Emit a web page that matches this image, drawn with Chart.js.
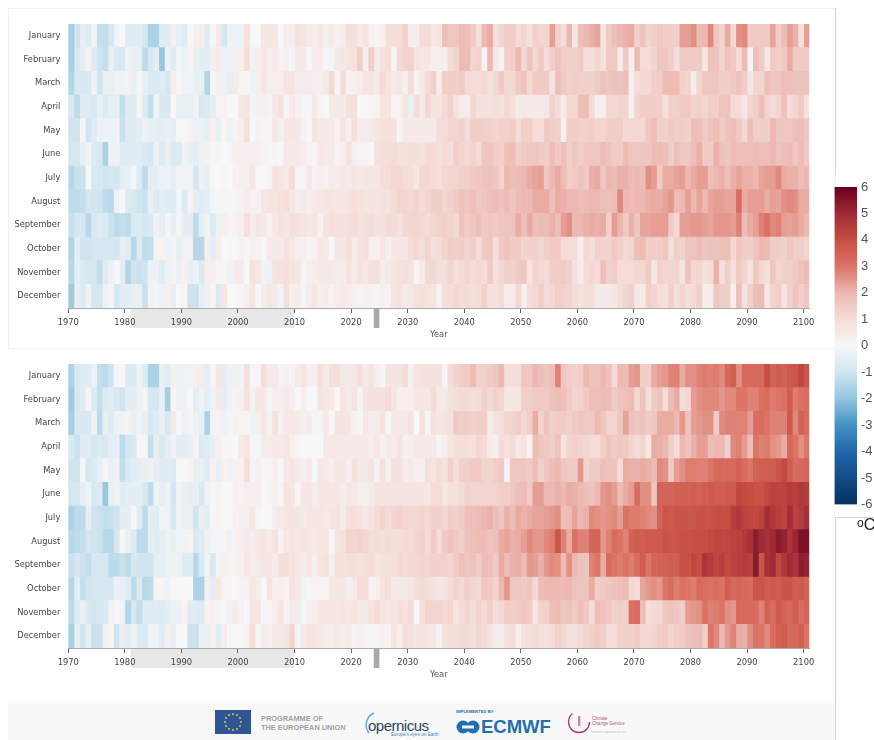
<!DOCTYPE html>
<html>
<head>
<meta charset="utf-8">
<title>Monthly temperature anomaly</title>
<script src="https://cdn.jsdelivr.net/npm/chart.js@4/dist/chart.umd.min.js"></script>
<style>
  html, body { margin: 0; padding: 0; background: #fff; width: 874px; height: 740px; overflow: hidden; }
  canvas { position: absolute; display: block; }
  .line { position: absolute; background: #d4d4d4; }
  #frame { position: absolute; left: 8px; top: 8px; width: 826px; height: 339px; border: 1px solid #f1f1f1; }
  #unit { position: absolute; left: 857px; top: 516px; font: 16px "Liberation Sans", sans-serif; color: #222; }
  #unit sup { font-size: 12px; vertical-align: 3px; line-height: 0; }
  #footer { position: absolute; left: 8px; top: 703px; }
</style>
</head>
<body>
<div id="frame"></div>
<canvas id="panelTop" width="827" height="340" style="left:8px;top:8px"></canvas>
<canvas id="panelBottom" width="827" height="340" style="left:8px;top:348px"></canvas>
<canvas id="legend" width="44" height="345" style="left:830px;top:175px"></canvas>
<div class="line" style="left:835px;top:8px;width:1px;height:167px"></div>
<div class="line" style="left:835px;top:517px;width:1px;height:223px"></div>
<div class="line" style="left:835px;top:517px;width:39px;height:1px"></div>
<div id="unit"><sup>o</sup>C</div>

<svg id="footer" width="827" height="37">
  <rect width="827" height="37" fill="#f8f8f8"/>
  <rect x="207" y="7" width="36" height="24" fill="#2f5597"/>
  <g fill="#d9c83a">
    <circle cx="225" cy="11" r="1"/><circle cx="229" cy="12" r="1"/><circle cx="232" cy="15" r="1"/><circle cx="233" cy="19" r="1"/>
    <circle cx="232" cy="23" r="1"/><circle cx="229" cy="26" r="1"/><circle cx="225" cy="27" r="1"/><circle cx="221" cy="26" r="1"/>
    <circle cx="218" cy="23" r="1"/><circle cx="217" cy="19" r="1"/><circle cx="218" cy="15" r="1"/><circle cx="221" cy="12" r="1"/>
  </g>
  <g font-family="Liberation Sans" font-weight="bold" font-size="7.4" fill="#a2a2a2">
    <text x="253" y="18">PROGRAMME OF</text>
    <text x="253" y="27">THE EUROPEAN UNION</text>
  </g>
  <path d="M366 10 A13 13 0 0 0 361 30" fill="none" stroke="#6fa8d8" stroke-width="1.5"/>
  <text x="360" y="28" font-family="Liberation Sans" font-size="15" fill="#27456f" letter-spacing="-.5">opernicus</text>
  <text x="383" y="33" font-family="Liberation Sans" font-size="4.6" fill="#3f7fc0">Europe's eyes on Earth</text>
  <text x="448" y="10" font-family="Liberation Sans" font-weight="bold" font-size="4.2" fill="#2b6cb0">IMPLEMENTED BY</text>
  <circle cx="455" cy="24" r="6.5" fill="#1f6fb2"/><circle cx="465" cy="24" r="6.5" fill="#1f6fb2"/>
  <rect x="454" y="22.5" width="12" height="3" fill="#f8f8f8"/>
  <text x="473" y="29.5" font-family="Liberation Sans" font-weight="bold" font-size="18.5" fill="#1f6fb2">ECMWF</text>
  <circle cx="571" cy="19" r="10.5" fill="none" stroke="#a83a5e" stroke-width="1.3" stroke-dasharray="42 24"/>
  <rect x="570" y="13" width="2.4" height="10" fill="#c98aa0"/>
  <g font-family="Liberation Sans" font-size="4.6" fill="#b5577a">
    <text x="584" y="17">Climate</text>
    <text x="584" y="22">Change Service</text>
  </g>
  <text x="583" y="30" font-family="Liberation Sans" font-size="3.6" fill="#bbb">climate.copernicus.eu</text>
</svg>

<script>
const months = ['January', 'February', 'March', 'April', 'May', 'June', 'July', 'August', 'September', 'October', 'November', 'December'];
const firstYear = 1970;
const lastYear = 2100;
const referencePeriod = [1981, 2010];
const presentYear = [2024, 2025];
const legendTicks = [-6, 6];
const legendColors = ['#053061', '#134c87', '#2166ac', '#4393c3', '#92c5de', '#d1e5f0', '#f7f7f7', '#f5dcd8', '#ecb8b1', '#dc7566', '#c64e42', '#a02a37', '#67001f'];

// anomalies in tenths of a degree, one value per year 1970-2100
const topJan = [-17,-10,-5,-7,-2,-12,-12,-9,-2,0, -6,-6,-6,-9,-16,-16,-6,-6,2,-5, -6,0,3,3,-6,0,5,-9,-3,-3, -3,9,0,0,6,6,6,0,4,4, 8,7,5,4,6,3,5,2,4,9, 8,5,7,2,1,3,9,9,9,13, 4,4,10,10,6,7,18,16,16,19, 18,15,9,20,22,9,12,14,14,10, 12,9,13,12,12,24,13,10,20,6, 18,20,21,23,6,15,18,20,21,22, 13,17,12,14,16,14,14,13,24,24, 26,19,20,27,16,12,22,11,26,27, 15,15,15,15,23,14,19,24,21,9, 24];
const topFeb = [-17,-8,-5,2,-6,-10,-12,-4,-8,-8, -2,-4,-5,-13,-9,-5,-19,-3,-6,-1, -3,2,-4,-5,-5,3,4,-3,-3,3, 3,10,2,4,6,3,5,2,3,-1, 5,5,0,4,4,-1,-1,5,6,7, 8,14,3,14,5,8,10,1,11,12, 13,7,6,6,3,3,3,10,12,19, 19,12,13,2,20,5,2,13,14,20, 11,17,11,15,10,14,17,14,13,13, 15,9,9,12,8,15,15,4,15,3, 19,10,10,12,16,16,14,9,15,15, 15,15,6,17,17,12,17,15,10,19, 1,18,15,6,15,14,15,22,15,15, 15];
const topMar = [-15,-8,-8,-8,-2,-10,-4,-4,-3,-3, 2,-4,0,-4,-7,-7,-6,-9,3,0, -3,-2,-4,-4,-15,0,3,-3,-4,4, 1,1,-2,3,6,3,3,3,7,7, 4,4,4,3,3,5,11,1,10,2, 3,4,7,7,5,10,7,5,6,3, 10,2,5,10,13,4,14,14,14,15, 10,10,10,11,8,11,15,11,11,15, 17,11,15,15,15,7,18,15,13,14, 13,13,13,15,17,16,17,17,18,3, 10,11,11,14,14,19,19,19,13,12, 4,12,16,16,16,14,14,15,17,14, 6,12,12,18,16,16,18,18,17,17, 17];
const topApr = [-8,-13,-6,-6,-8,-4,-7,-5,-5,-12, -6,-6,1,-6,-12,-3,-8,-8,0,-4, -4,-4,-2,-8,-7,-5,2,2,0,0, 6,7,1,3,3,2,6,8,1,5, 3,1,-1,5,1,0,5,5,5,8, 9,0,0,2,2,7,7,2,2,7, -4,10,5,11,7,7,10,13,8,5, 4,11,8,8,8,9,8,11,9,5, 5,5,5,5,6,13,10,5,11,11, 18,18,10,3,3,11,11,12,12,2, 12,14,14,14,14,9,13,13,15,15, 12,13,12,14,14,17,17,10,10,6, 12,14,18,12,10,12,17,10,12,15, 8];
const topMay = [-10,-10,-1,-10,-6,-3,-3,-3,-2,-11, -6,-6,-5,-3,-4,-5,-5,-4,-5,0, 0,2,-3,-3,-4,3,-4,1,-3,1, 3,9,0,2,1,1,6,3,6,6, 5,2,0,7,5,5,5,2,7,3, 9,4,4,5,7,8,8,8,1,5, 5,5,5,5,5,10,10,12,12,13, 10,14,14,13,13,12,13,13,14,10, 14,14,10,10,15,14,13,3,14,14, 13,13,14,12,12,14,14,14,11,11, 11,11,16,18,13,13,15,14,14,13, 18,18,15,17,18,15,17,18,15,11, 18,14,14,14,20,16,16,16,18,18, 16];
const topJun = [-9,-9,-5,-3,-7,-8,-16,-3,-2,-6, -6,-6,-6,-7,-9,-3,-7,-4,-7,-7, -2,-4,-5,-3,-2,0,1,0,1,3, 3,3,3,3,2,1,1,0,5,5, 5,4,2,1,6,5,5,2,3,8, 3,2,2,0,8,9,9,10,8,8, 9,9,8,10,10,8,10,9,14,12, 11,12,10,16,16,14,13,18,18,14, 15,16,16,15,14,18,15,18,14,16, 14,16,16,16,19,17,15,15,19,16, 16,16,16,19,19,18,14,18,16,16, 18,21,15,15,21,17,16,19,18,18, 18,19,18,18,20,17,18,19,16,19, 15];
const topJul = [-14,-11,-11,0,-8,-9,-10,-9,-9,-5, -4,-1,-6,-13,-5,-5,-3,-3,-5,-2, -2,-2,-9,-3,-4,0,0,1,0,2, 3,3,6,0,0,1,8,7,5,10, 1,-1,5,2,3,2,5,4,6,5, 6,5,6,6,6,9,10,11,11,10, 9,6,11,11,10,9,11,12,12,13, 14,15,16,17,17,16,12,20,18,19, 20,22,23,24,16,20,22,19,14,15, 17,15,21,22,16,20,19,21,21,19, 20,18,26,24,15,22,22,23,24,20, 22,24,24,18,20,21,18,21,23,21, 21,20,23,24,24,27,22,21,21,18, 20];
const topAug = [-13,-13,-12,-9,-10,-10,-13,-14,-3,0, -7,-8,-10,-11,-4,-7,-5,-6,-6,-1, -7,2,-5,-6,-5,-1,-1,1,-1,1, 2,4,2,2,6,7,7,8,9,6, 4,5,3,5,6,7,7,6,6,7, 9,8,7,7,7,8,7,10,12,12, 11,12,10,12,14,14,12,13,15,17, 16,18,16,16,18,19,17,19,16,19, 20,20,22,22,22,18,22,21,20,20, 18,19,20,20,18,18,19,27,20,19, 20,20,21,22,22,23,25,19,20,24, 20,23,20,23,24,24,23,23,32,22, 24,24,24,22,24,23,26,27,26,22, 22];
const topSep = [-11,-9,-9,-14,-8,-6,-7,-11,-13,-12, -13,-7,-7,-9,-7,-2,-5,-1,-4,-1, -5,-5,-13,-5,-3,-7,-3,3,1,2, 3,9,4,6,5,2,6,8,6,9, 8,7,6,7,2,7,9,8,8,9, 10,8,9,10,8,8,10,10,8,11, 12,12,11,10,12,13,14,12,11,17, 14,16,18,15,16,15,16,17,17,22, 18,22,18,19,19,21,18,24,26,20, 20,21,22,21,22,13,24,20,15,21, 16,23,23,24,24,24,15,11,24,24, 25,25,24,23,25,25,25,24,28,19, 22,24,28,31,27,28,24,23,24,22, 20];
const topOct = [-15,-5,-10,-10,-9,-9,-9,-9,-9,-5, -6,-14,-7,-13,-12,1,1,-3,-1,-4, -2,-2,-14,-14,3,-5,3,0,1,0, 2,1,3,2,0,5,5,5,8,6, 3,3,1,2,6,5,0,6,6,9, 5,8,9,3,3,6,3,6,6,6, 10,11,9,12,9,10,12,14,13,14, 12,14,10,15,16,9,15,17,15,15, 12,13,13,12,14,15,15,10,10,10, 3,11,9,13,12,12,15,13,11,12, 18,19,14,14,14,16,9,14,13,17, 17,19,16,17,17,18,18,11,16,14, 14,17,20,19,14,14,13,16,14,14, 12];
const topNov = [-14,-5,-7,-9,-9,-12,-6,-3,0,-5, -15,-10,-11,-10,-3,-3,-6,-3,-1,-3, 2,-4,-3,-7,3,3,1,1,-2,5, 5,0,8,6,-2,-3,8,8,9,7, 6,-1,3,4,5,5,5,4,4,7, 5,8,6,9,9,4,5,7,8,9, 8,1,5,11,11,9,9,12,8,10, 12,10,11,9,15,8,11,13,13,15, 16,7,12,11,10,14,14,15,13,8, 4,10,11,10,18,13,14,10,10,10, 11,11,15,6,13,12,12,12,7,17, 11,12,9,10,21,9,14,8,15,12, 7,16,11,9,16,12,13,13,15,17, 19];
const topDec = [-18,-4,-7,-2,-9,-9,-3,1,-9,-5, -5,-4,-4,-11,-2,-1,-3,3,-4,0, 1,-11,-11,-4,-3,1,-7,6,0,0, 1,3,7,0,4,6,5,-2,9,3, 4,-1,4,6,3,4,2,4,5,4, 3,2,3,2,1,3,2,7,8,5, 6,8,9,8,7,2,9,10,11,10, 10,9,10,13,8,8,10,4,5,11, 3,10,11,14,10,11,14,13,12,10, 8,9,9,5,5,5,6,9,12,13, 5,5,14,12,10,9,13,9,12,9, 10,14,4,4,16,14,14,3,18,8, 14,18,19,6,12,14,7,13,16,13, 16];

const bottomJan = [-16,-8,-6,-6,-3,-12,-13,-10,-1,0, -7,-7,-2,-6,-16,-16,-4,-6,3,-3, -3,-2,3,4,-5,1,6,-5,-3,-3, -2,9,1,1,9,5,5,2,3,2, 5,7,3,3,9,5,9,9,5,5, 6,9,5,7,3,1,7,7,7,10, 2,7,8,8,8,8,1,10,12,14, 15,19,13,13,15,16,20,9,9,9, 16,16,20,18,17,18,28,16,14,13, 14,20,17,17,20,17,10,20,19,24, 25,14,14,22,24,25,28,28,22,26, 26,28,29,28,29,27,33,36,26,33, 33,33,33,40,34,36,35,37,38,42, 38];
const bottomFeb = [-18,-9,-6,1,-7,-12,-7,-6,-8,-10, -5,-5,-3,1,-9,-9,-4,-17,1,-3, -3,0,-5,-2,-5,-2,5,-5,-2,2, 3,8,2,6,6,-1,3,3,5,3, 0,3,0,0,7,6,5,0,7,5, 7,1,7,8,8,8,10,7,3,3, 3,6,6,6,10,5,5,8,9,10, 10,9,10,13,11,13,12,6,6,6, 14,14,15,15,15,17,18,18,15,12, 13,15,18,18,19,18,15,17,18,19, 11,17,9,15,17,10,19,22,10,11, 24,26,27,27,27,25,27,27,30,30, 28,28,31,32,29,30,31,36,29,31, 32];
const bottomMar = [-17,-8,-8,-8,-2,-13,-4,-6,-2,-3, 2,-4,-2,-4,-8,-6,-4,-9,5,0, -3,-1,-3,-4,-16,-2,2,-3,-1,2, 1,1,-2,3,6,2,8,2,5,6, 5,3,4,1,1,5,0,7,7,6, 2,1,6,4,4,7,1,5,5,5, 7,0,8,1,8,6,7,8,15,14, 14,13,14,14,5,8,9,12,12,14, 11,14,22,12,17,13,14,15,13,15, 16,15,15,20,16,12,12,16,23,17, 16,17,15,16,22,22,22,20,25,17, 24,25,26,26,15,27,28,28,28,28, 24,32,32,30,28,28,28,37,27,35, 32];
const bottomApr = [-8,-11,-6,-6,-9,-6,-8,-5,-5,-13, -9,-8,0,1,-12,-4,-8,-5,-2,-5, -5,-4,2,-7,-6,-4,3,1,1,0, 5,7,1,-1,4,4,5,5,7,3, 1,0,0,0,0,5,6,5,5,5, 5,5,5,4,6,2,5,4,7,2, 3,5,5,5,5,1,3,7,9,9, 9,8,11,10,4,3,10,8,10,5, 8,2,18,16,15,14,17,7,12,13, 12,11,10,10,14,17,15,16,15,12, 10,12,6,22,21,20,14,10,20,17, 21,24,24,19,20,20,13,27,28,24, 18,30,28,29,26,25,22,33,30,26, 30];
const bottomMay = [-10,-10,-1,-9,-7,-4,-1,-4,-2,-12, -8,-6,-5,-4,-2,-5,-6,-6,-7,0, 0,2,-4,-4,-6,2,-4,2,-3,2, 2,10,-1,3,1,1,3,0,5,7, 5,3,5,0,6,5,3,6,6,3, 8,5,5,7,2,8,3,8,8,4, 5,3,3,9,7,10,8,13,9,13, 14,15,15,12,12,14,15,2,16,16, 16,15,18,13,16,18,20,16,15,15, 25,12,15,15,18,17,17,10,22,21, 21,22,21,19,27,26,15,24,26,29, 29,28,28,30,33,33,33,33,35,32, 30,35,36,36,36,38,41,36,32,33, 34];
const bottomJun = [-9,-9,-5,-3,-8,-7,-19,-4,-2,-6, -5,-5,-5,-8,-13,-2,-5,-3,-9,-2, -4,-5,-4,-8,-3,0,1,0,0,3, 2,3,3,3,0,1,3,1,7,6, 1,6,6,4,6,6,6,6,4,6, 5,3,3,5,7,7,7,7,7,7, 7,7,7,6,10,10,6,8,8,10, 13,12,12,12,12,12,14,14,16,18, 19,15,24,24,20,20,21,20,22,21, 20,18,17,20,25,26,24,19,22,24, 32,26,26,16,34,34,34,35,35,35, 36,35,36,37,36,36,37,37,42,41, 40,39,39,41,43,43,43,45,44,46, 45];
const bottomJul = [-16,-13,-13,-5,-10,-11,-12,-11,-10,-5, -5,0,-6,-13,-5,-6,-2,-3,-8,-2, -4,-4,-10,-4,-5,0,1,0,0,2, 3,3,6,1,0,0,4,5,7,7, 6,5,6,6,6,5,7,7,4,9, 9,8,6,7,10,12,10,12,13,12, 11,11,12,11,13,13,12,14,13,15, 18,18,19,20,21,18,16,21,19,22, 21,22,23,23,24,25,26,18,19,23, 20,21,27,26,25,26,27,24,31,29, 29,28,27,26,34,38,37,38,38,38, 38,39,39,39,40,40,40,44,46,43, 42,41,43,49,46,44,43,49,43,45, 48];
const bottomAug = [-14,-13,-12,-9,-10,-11,-14,-14,-9,0, -4,-7,-13,-13,-5,-6,-5,-3,-4,-2, -2,2,-8,-6,-3,-1,-1,1,-2,2, 3,4,3,6,7,5,8,2,6,7, 6,7,6,5,6,6,1,7,8,12, 12,13,12,9,10,9,10,9,9,10, 10,12,13,10,15,10,15,17,15,13, 17,18,19,19,17,18,22,23,21,22, 24,27,25,25,27,29,38,28,22,31, 28,28,34,34,25,28,32,30,28,35, 36,36,37,37,37,39,38,38,39,39, 40,40,40,41,42,42,42,43,44,46, 48,53,50,48,50,54,52,47,51,56, 56];
const bottomSep = [-11,-9,-11,-12,-9,-9,-9,-13,-13,-11, -13,-9,-10,-10,-10,-5,-5,-3,-3,-2, -6,-6,-14,-8,-2,-8,-1,3,2,2, 3,6,4,5,6,6,5,9,9,7, 6,4,6,2,7,8,3,8,8,9, 9,8,9,10,7,8,8,9,11,10, 11,11,12,12,13,13,13,12,15,18, 16,17,15,19,18,15,22,19,21,22, 19,25,24,21,25,27,26,19,26,20, 17,17,28,30,22,32,30,29,31,29, 32,36,30,34,35,35,36,36,39,39, 42,40,47,45,42,44,41,43,44,45, 44,54,38,48,50,42,46,50,47,53, 52];
const bottomOct = [-14,-5,-12,-10,-9,-9,-9,-9,-3,-5, -6,-13,-7,-14,-13,1,1,-3,0,0, 0,0,-16,-16,3,-5,6,1,1,0, 2,2,6,4,0,7,3,3,2,8, 5,2,-1,2,2,2,6,6,6,3, 5,10,10,2,3,7,9,5,5,5, 6,9,10,9,8,6,7,10,12,11, 14,12,11,16,15,12,20,25,16,16, 15,16,11,19,20,20,20,19,20,17, 17,17,22,14,15,16,17,18,19,11, 10,23,25,26,25,30,32,29,31,30, 29,33,32,31,32,31,36,33,34,33, 32,38,38,36,37,36,38,38,36,37, 35];
const bottomNov = [-13,-7,-4,-8,-9,-9,-8,-2,0,-2, -15,-9,-12,-6,-6,-6,-7,-5,-3,-3, 2,-6,-6,-7,2,3,1,0,-2,4, 2,0,7,6,-1,1,4,7,1,4, 4,-1,3,4,6,6,6,6,7,6, 7,5,5,8,10,7,6,7,9,8, 10,0,9,12,12,12,11,12,7,10, 12,9,12,10,14,9,11,14,14,15, 16,15,6,13,13,18,19,16,17,15, 18,15,10,18,17,16,13,14,13,31, 32,19,9,10,11,16,17,16,14,24, 25,26,31,28,29,30,26,25,33,33, 33,32,28,35,32,37,34,33,36,32, 34];
const bottomDec = [-17,-4,-10,-4,-11,-11,-2,1,-10,-4, -5,-2,-7,-8,-2,-3,-6,3,-4,0, 0,-11,-11,-4,-4,2,-6,4,0,0, 0,2,9,1,4,3,5,5,6,12, -1,5,7,6,5,4,3,5,3,4, 2,3,2,1,1,3,2,7,3,9, 8,7,7,6,5,2,8,9,9,10, 10,9,11,10,8,4,4,8,10,3, 9,9,10,9,8,10,13,11,8,8, 10,12,14,15,13,10,10,13,13,13, 15,11,11,12,14,15,12,14,15,17, 18,19,14,30,27,20,25,28,22,21, 26,31,30,27,32,35,36,33,33,35, 30];

const topRows = [topJan, topFeb, topMar, topApr, topMay, topJun, topJul, topAug, topSep, topOct, topNov, topDec];
const bottomRows = [bottomJan, bottomFeb, bottomMar, bottomApr, bottomMay, bottomJun, bottomJul, bottomAug, bottomSep, bottomOct, bottomNov, bottomDec];

Chart.defaults.animation = false;

// colour of a value, same ramp as the colour bar
function colorOf(value) {
    const pos = Math.max(-6, Math.min(6, value)) + 6;
    const low = Math.min(Math.floor(pos), 11);
    const mix = pos - low;
    const a = parseInt(legendColors[low].slice(1), 16);
    const b = parseInt(legendColors[low + 1].slice(1), 16);
    const channel = shift => Math.round(((a >> shift) & 255) * (1 - mix) + ((b >> shift) & 255) * mix);
    return `rgb(${channel(16)},${channel(8)},${channel(0)})`;
}

// grey bands under the axis: reference period and present year
const bandsPlugin = {
    id: 'bands',
    beforeDraw(chart) {
        const x = chart.scales.x;
        const bottom = chart.chartArea.bottom;
        const c = chart.ctx;
        c.fillStyle = '#e8e8e8';
        c.fillRect(x.getPixelForValue(referencePeriod[0]), bottom, x.getPixelForValue(referencePeriod[1]) - x.getPixelForValue(referencePeriod[0]), 20);
        c.fillStyle = '#a9a9a9';
        c.fillRect(x.getPixelForValue(presentYear[0]), bottom, x.getPixelForValue(presentYear[1]) - x.getPixelForValue(presentYear[0]), 20);
    }
};

function drawPanel(id, rows) {
    const datasets = [];
    for (let year = firstYear; year <= lastYear; year++) {
        const i = year - firstYear;
        datasets.push({
            label: String(year),
            data: months.map(() => [year, year + 1]),
            backgroundColor: rows.map(row => colorOf(row[i] / 10)),
            borderWidth: 0
        });
    }
    new Chart(document.getElementById(id), {
        type: 'bar',
        data: { labels: months, datasets: datasets },
        plugins: [bandsPlugin],
        options: {
            indexAxis: 'y',
            responsive: false,
            grouped: false,
            categoryPercentage: 1,
            barPercentage: 1,
            layout: { padding: { top: 16, right: 25.7, bottom: 8 } },
            plugins: { legend: { display: false }, tooltip: { enabled: false } },
            scales: {
                x: {
                    type: 'linear',
                    min: firstYear,
                    max: lastYear + 1,
                    afterFit(scale) { scale.height = 32; },
                    grid: { drawOnChartArea: false, tickLength: 5, tickColor: '#666' },
                    border: { color: '#aaa' },
                    title: { display: true, text: 'Year', color: '#555', font: { family: 'DejaVu Sans', size: 8.3 }, padding: 0 },
                    ticks: {
                        stepSize: 10,
                        includeBounds: false,
                        autoSkip: false,
                        maxRotation: 0,
                        padding: 5,
                        color: '#444',
                        font: { family: 'DejaVu Sans', size: 8.3 },
                        callback: v => String(v)
                    }
                },
                y: {
                    afterFit(scale) { scale.width = 60.3; },
                    grid: { display: false, drawTicks: false, tickLength: 0 },
                    border: { display: false },
                    ticks: { padding: 8, color: '#444', font: { family: 'DejaVu Sans', size: 8.3 } }
                }
            }
        }
    });
}

drawPanel('panelTop', topRows);
drawPanel('panelBottom', bottomRows);

// colour bar
new Chart(document.getElementById('legend'), {
    type: 'bar',
    data: {
        labels: [''],
        datasets: [{
            data: [legendTicks],
            borderWidth: 0,
            backgroundColor(ctx) {
                const area = ctx.chart.chartArea;
                if (!area) return '#ccc';
                const g = ctx.chart.ctx.createLinearGradient(0, area.bottom, 0, area.top);
                legendColors.forEach((c, i) => g.addColorStop(i / (legendColors.length - 1), c));
                return g;
            }
        }]
    },
    options: {
        responsive: false,
        categoryPercentage: 1,
        barPercentage: 1,
        layout: { padding: { left: 4.5, top: 12, bottom: 15.5 } },
        plugins: { legend: { display: false }, tooltip: { enabled: false } },
        scales: {
            x: { display: false },
            y: {
                position: 'right',
                min: legendTicks[0],
                max: legendTicks[1],
                afterFit(scale) { scale.width = 17; },
                grid: { display: false, drawTicks: false, tickLength: 0 },
                border: { display: false },
                ticks: { stepSize: 1, padding: 4, color: '#555', font: { family: 'Liberation Sans', size: 13 } }
            }
        }
    }
});
</script>
</body>
</html>
